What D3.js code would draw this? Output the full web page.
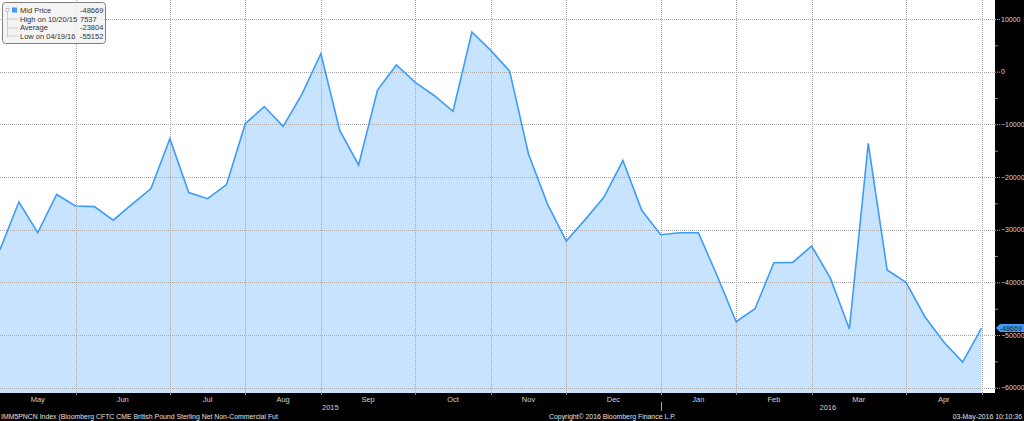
<!DOCTYPE html>
<html>
<head>
<meta charset="utf-8">
<script src="https://cdn.jsdelivr.net/npm/d3@7"></script>
<style>
  html, body { margin: 0; padding: 0; background: #000; }
  svg { display: block; }
  text { font-family: "Liberation Sans", Arial, sans-serif; }
</style>
</head>
<body>
<svg id="chart" width="1024" height="421"></svg>
<script>
// ---- data ----
const dates = [
  "2015-04-28","2015-05-05","2015-05-12","2015-05-19","2015-05-26",
  "2015-06-02","2015-06-09","2015-06-16","2015-06-23","2015-06-30",
  "2015-07-07","2015-07-14","2015-07-21","2015-07-28",
  "2015-08-04","2015-08-11","2015-08-18","2015-08-25",
  "2015-09-01","2015-09-08","2015-09-15","2015-09-22","2015-09-29",
  "2015-10-06","2015-10-13","2015-10-20","2015-10-27",
  "2015-11-03","2015-11-10","2015-11-17","2015-11-24",
  "2015-12-01","2015-12-08","2015-12-15","2015-12-22","2015-12-29",
  "2016-01-05","2016-01-12","2016-01-19","2016-01-26",
  "2016-02-02","2016-02-09","2016-02-16","2016-02-23",
  "2016-03-01","2016-03-08","2016-03-15","2016-03-22","2016-03-29",
  "2016-04-05","2016-04-12","2016-04-19","2016-04-26"
];
const netPositions = [
  -33800,-24750,-30570,-23310,-25500,
  -25620,-28190,-25130,-22190,-12720,
  -22940,-24120,-21440,-9850,
  -6620,-10380,-4270,3400,
  -11140,-17720,-3500,1280,-2040,
  -4520,-7520,7537,4040,
  100,-15630,-25100,-32150,
  -28090,-23820,-16880,-26310,-30950,
  -30570,-30570,-38800,-47470,
  -45000,-36270,-36200,-33100,
  -39240,-48860,-13610,-37640,-40000,
  -46520,-51330,-55152,-48669
];
const yTicks = [10000, 0, -10000, -20000, -30000, -40000, -50000, -60000];
const yMinorTicks = [5000, -5000, -15000, -25000, -35000, -45000, -55000];
const yearLabels = ["2015", "2016"];
const legendLabels = ["Mid Price", "High on 10/20/15", "Average", "Low on 04/19/16"];
const legendValues = ["-48669", "7537", "-23804", "-55152"];
const lastLabel = "-48669";
const footerLeft = "IMM5PNCN Index (Bloomberg CFTC CME British Pound Sterling Net Non-Commercial Fut";
const footerMid = "Copyright\u00A9 2016 Bloomberg Finance L.P.";
const footerRight = "03-May-2016 10:10:36";

// ---- layout ----
const W = 1024, H = 421;
const plotR = 995, plotB = 393;
const parse = d3.timeParse("%Y-%m-%d");
const data = dates.map((d, i) => ({ date: parse(d), v: netPositions[i] }));

const x = d3.scaleTime()
  .domain(d3.extent(data, d => d.date))
  .range([0, 981.5]);
const y = d3.scaleLinear()
  .domain([-60000, 10000])
  .range([387.7, 19]);

const svg = d3.select("#chart");
svg.append("rect").attr("width", W).attr("height", H).attr("fill", "#000");
svg.append("rect").attr("x", 0).attr("y", 0).attr("width", plotR).attr("height", plotB).attr("fill", "#fff");

// area
const area = d3.area().x(d => x(d.date)).y0(plotB).y1(d => y(d.v));
svg.append("path").datum(data).attr("d", area).attr("fill", "#c8e3fd");

// month boundaries: last data point of each month (skip the partial first month)
const monthGroups = d3.groups(data, d => d3.timeFormat("%Y-%m")(d.date));
const monthEnds = monthGroups.map(g => g[1][g[1].length - 1].date)
  .filter(d => d > data[0].date);

const grid = svg.append("g").attr("stroke", "#a8a8a8").attr("stroke-width", 1)
  .attr("stroke-dasharray", "1,1").attr("fill", "none");
grid.selectAll("line.h").data(yTicks).join("line")
  .attr("x1", 0).attr("x2", plotR)
  .attr("y1", d => Math.round(y(d)) + 0.5).attr("y2", d => Math.round(y(d)) + 0.5);
grid.selectAll("line.v").data(monthEnds).join("line")
  .attr("x1", d => Math.round(x(d)) + 0.5).attr("x2", d => Math.round(x(d)) + 0.5)
  .attr("y1", 0).attr("y2", plotB);

// line
const line = d3.line().x(d => x(d.date)).y(d => y(d.v));
svg.append("path").datum(data).attr("d", line)
  .attr("fill", "none").attr("stroke", "#3d9cfb").attr("stroke-width", 1.6)
  .attr("stroke-linejoin", "miter");

// right axis
const axis = d3.axisRight(y).tickValues(yTicks).tickSize(5).tickPadding(1).tickFormat(d3.format("d"));
const gA = svg.append("g").attr("transform", `translate(${plotR},0)`).call(axis);
gA.select(".domain").remove();
gA.selectAll(".tick line").attr("stroke", "#aaa").attr("stroke-dasharray", "1,1");
gA.selectAll(".tick text").attr("fill", "#d8d8d8").attr("font-size", "7px")
  .attr("font-family", "Liberation Sans, Arial, sans-serif");
const axisMinor = d3.axisRight(y).tickValues(yMinorTicks).tickSize(3).tickFormat("");
const gM = svg.append("g").attr("transform", `translate(${plotR},0)`).call(axisMinor);
gM.select(".domain").remove();
gM.selectAll(".tick line").attr("stroke", "#888");

// last value label
const lastY = y(data[data.length - 1].v);
const lb = svg.append("g").attr("transform", `translate(996,${lastY})`);
lb.append("path").attr("d", "M0,0 L4,-4 L28,-4 L28,4 L4,4 Z").attr("fill", "#3d9cfb");
lb.append("text").attr("x", 4).attr("y", 2.6).attr("font-size", "7px").attr("fill", "#0a1a3a")
  .text(lastLabel);

// bottom month labels
const monthFmt = d3.timeFormat("%b");
const monthLabelData = monthEnds.map((d, i) => ({
  label: monthFmt(d),
  cx: ((i === 0 ? x(data[0].date) : x(monthEnds[i - 1])) + x(d)) / 2
}));
svg.append("g").selectAll("text").data(monthLabelData).join("text")
  .attr("x", d => d.cx).attr("y", 402).attr("text-anchor", "middle")
  .attr("font-size", "7.5px").attr("fill", "#d0d0d0").text(d => d.label);
// tick marks at bottom
svg.append("g").selectAll("line").data(monthEnds).join("line")
  .attr("x1", d => Math.round(x(d)) + 0.5).attr("x2", d => Math.round(x(d)) + 0.5)
  .attr("y1", plotB).attr("y2", plotB + 2).attr("stroke", "#888");

// year labels
const yearSplit = monthEnds.find(d => d.getFullYear() === 2015 && d.getMonth() === 11);
const yearCenters = [(0 + x(yearSplit)) / 2, (x(yearSplit) + plotR) / 2];
svg.append("g").selectAll("text").data(yearLabels).join("text")
  .attr("x", (d, i) => yearCenters[i]).attr("y", 410).attr("text-anchor", "middle")
  .attr("font-size", "7.5px").attr("fill", "#d0d0d0").text(d => d);
svg.append("line").attr("x1", Math.round(x(yearSplit)) + 0.5).attr("x2", Math.round(x(yearSplit)) + 0.5)
  .attr("y1", 402).attr("y2", 411).attr("stroke", "#aaa");

// footer
svg.append("text").attr("x", 1).attr("y", 418.5).attr("font-size", "6.9px").attr("fill", "#e0e0e0").text(footerLeft);
svg.append("text").attr("x", 549).attr("y", 418.5).attr("font-size", "6.9px").attr("fill", "#e0e0e0").text(footerMid);
svg.append("text").attr("x", 1022).attr("y", 418.5).attr("text-anchor", "end").attr("font-size", "6.9px").attr("fill", "#e0e0e0").text(footerRight);

// legend
const lg = svg.append("g").attr("transform", "translate(2,2)");
lg.append("rect").attr("x", 0.5).attr("y", 0.5).attr("width", 103).attr("height", 41).attr("rx", 3)
  .attr("fill", "#f3f3f3").attr("fill-opacity", 0.92).attr("stroke", "#808080");
lg.append("rect").attr("x", 4).attr("y", 6.5).attr("width", 3).attr("height", 3).attr("fill", "none").attr("stroke", "#aaa").attr("stroke-width", 0.6);
lg.append("line").attr("x1", 5.5).attr("x2", 5.5).attr("y1", 10).attr("y2", 35).attr("stroke", "#bbb").attr("stroke-width", 0.7);
[17, 26, 34].forEach(yy => {
  lg.append("line").attr("x1", 5.5).attr("x2", 16).attr("y1", yy).attr("y2", yy).attr("stroke", "#bbb").attr("stroke-width", 0.7);
});
lg.append("rect").attr("x", 10).attr("y", 5.5).attr("width", 5).attr("height", 5).attr("fill", "#3d9cfb");
lg.selectAll("text.l").data(legendLabels).join("text")
  .attr("x", 18).attr("y", (d, i) => 11 + i * 8.5)
  .attr("font-size", "7.5px").attr("fill", "#333").text(d => d);
lg.selectAll("text.v").data(legendValues).join("text")
  .attr("x", 78).attr("y", (d, i) => 11 + i * 8.5)
  .attr("font-size", "7.5px").attr("fill", "#333").text(d => d);
</script>
</body>
</html>
